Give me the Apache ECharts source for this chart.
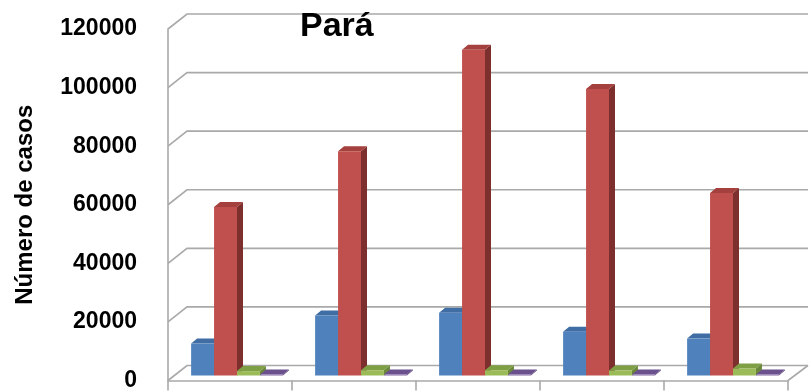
<!DOCTYPE html>
<html>
<head>
<meta charset="utf-8">
<script src="https://cdn.jsdelivr.net/npm/echarts@6/dist/echarts.min.js"></script>
<style>
  html, body { margin: 0; padding: 0; background: #ffffff; }
  #chart { width: 811px; height: 392px; }
</style>
</head>
<body>
<div id="chart"></div>
<script>
// Case counts per group, four series
const categories = ['1', '2', '3', '4', '5'];
const seriesBlue = [10900, 20500, 21400, 14900, 12600];
const seriesRed = [57500, 76600, 111200, 97800, 62300];
const seriesGreen = [1500, 1800, 1800, 1700, 2400];
const seriesPurple = [300, 300, 300, 300, 300];
const yTicks = [0, 20000, 40000, 60000, 80000, 100000, 120000];

const FONT = '"Liberation Sans", Arial, sans-serif';
const WALL = '#a9a9a9';

// Depth of the floor (back wall offset) and of each column
const DEPTH_X = 19, DEPTH_Y = -15;
const FRONT_X = 7, FRONT_Y = -5;
const SIDE_X = 6, SIDE_Y = -5;

const palettes = [
  { front: '#4F81BD', top: '#3F6DA4', side: '#355E90' },
  { front: '#C0504D', top: '#A4403D', side: '#7D2F2D' },
  { front: '#9BBB59', top: '#7F9F44', side: '#6A873A' },
  { front: '#8064A2', top: '#6B508E', side: '#5A4279' }
];

// Back wall, side wall and floor lines at every value tick
function renderWall(params, api) {
  const cs = params.coordSys;
  const v = api.value(1);
  const y = api.coord([0, v])[1];
  const left = cs.x;
  const right = cs.x + cs.width;
  const children = [{
    type: 'polyline',
    shape: { points: [[left, y], [left + DEPTH_X, y + DEPTH_Y], [right + DEPTH_X + 1, y + DEPTH_Y]] },
    style: { stroke: WALL, lineWidth: 1.6, fill: null }
  }];
  if (v === 0) {
    children.push({
      type: 'line',
      shape: { x1: right, y1: y, x2: right + DEPTH_X + 1, y2: y + DEPTH_Y },
      style: { stroke: WALL, lineWidth: 1.6 }
    });
  }
  return { type: 'group', children };
}

// Column with front, top and side faces
function makeBarRenderer(si) {
  const pal = palettes[si];
  return function (params, api) {
    const idx = api.value(0);
    const val = api.value(1);
    const top = api.coord([idx, val]);
    const base = api.coord([idx, 0]);
    const band = api.size([1, 0])[0];
    const bw = band * 0.185;
    const x0 = top[0] - 2 * bw + si * bw + FRONT_X;
    const x1 = x0 + bw;
    const ty = top[1] + FRONT_Y;
    const by = base[1] + FRONT_Y;
    return {
      type: 'group',
      children: [
        {
          type: 'polygon',
          shape: { points: [[x1, ty], [x1, by], [x1 + SIDE_X, by + SIDE_Y], [x1 + SIDE_X, ty + SIDE_Y]] },
          style: { fill: pal.side }
        },
        {
          type: 'polygon',
          shape: { points: [[x0, ty], [x1, ty], [x1 + SIDE_X, ty + SIDE_Y], [x0 + SIDE_X, ty + SIDE_Y]] },
          style: { fill: pal.top }
        },
        {
          type: 'rect',
          shape: { x: x0, y: ty, width: bw, height: by - ty },
          style: { fill: pal.front }
        }
      ]
    };
  };
}

const allSeries = [seriesBlue, seriesRed, seriesGreen, seriesPurple];
const names = ['Série 1', 'Série 2', 'Série 3', 'Série 4'];

const chart = echarts.init(document.getElementById('chart'), null, { renderer: 'canvas' });
chart.setOption({
  animation: false,
  backgroundColor: '#ffffff',
  title: {
    text: 'Pará',
    left: 295,
    top: 5,
    textStyle: { fontFamily: FONT, fontSize: 34, fontWeight: 'bold', color: '#000000' }
  },
  grid: { left: 168, right: 23, top: 29, bottom: 10, containLabel: false },
  xAxis: {
    type: 'category',
    data: categories,
    boundaryGap: true,
    axisLine: { show: true, lineStyle: { color: WALL, width: 1.6 } },
    axisTick: { show: true, length: 10, lineStyle: { color: WALL, width: 1.6 } },
    axisLabel: { show: false },
    splitLine: { show: false }
  },
  yAxis: {
    type: 'value',
    min: 0,
    max: 120000,
    interval: 20000,
    name: 'Número de casos',
    nameLocation: 'middle',
    nameGap: 131,
    nameTextStyle: { fontFamily: FONT, fontSize: 24, fontWeight: 'bold', color: '#000000' },
    axisLine: { show: true, lineStyle: { color: WALL, width: 1.6 } },
    axisTick: { show: false },
    splitLine: { show: false },
    axisLabel: {
      margin: 31,
      fontFamily: FONT,
      fontSize: 23,
      fontWeight: 'bold',
      color: '#000000',
      formatter: v => String(v)
    }
  },
  series: [
    {
      type: 'custom',
      name: 'wall',
      silent: true,
      z: 1,
      renderItem: renderWall,
      data: yTicks.map(v => [0, v])
    }
  ].concat(allSeries.map((arr, si) => ({
    type: 'custom',
    name: names[si],
    z: 3,
    renderItem: makeBarRenderer(si),
    encode: { x: 0, y: 1 },
    data: arr.map((v, i) => [i, v])
  })))
});
</script>
</body>
</html>
